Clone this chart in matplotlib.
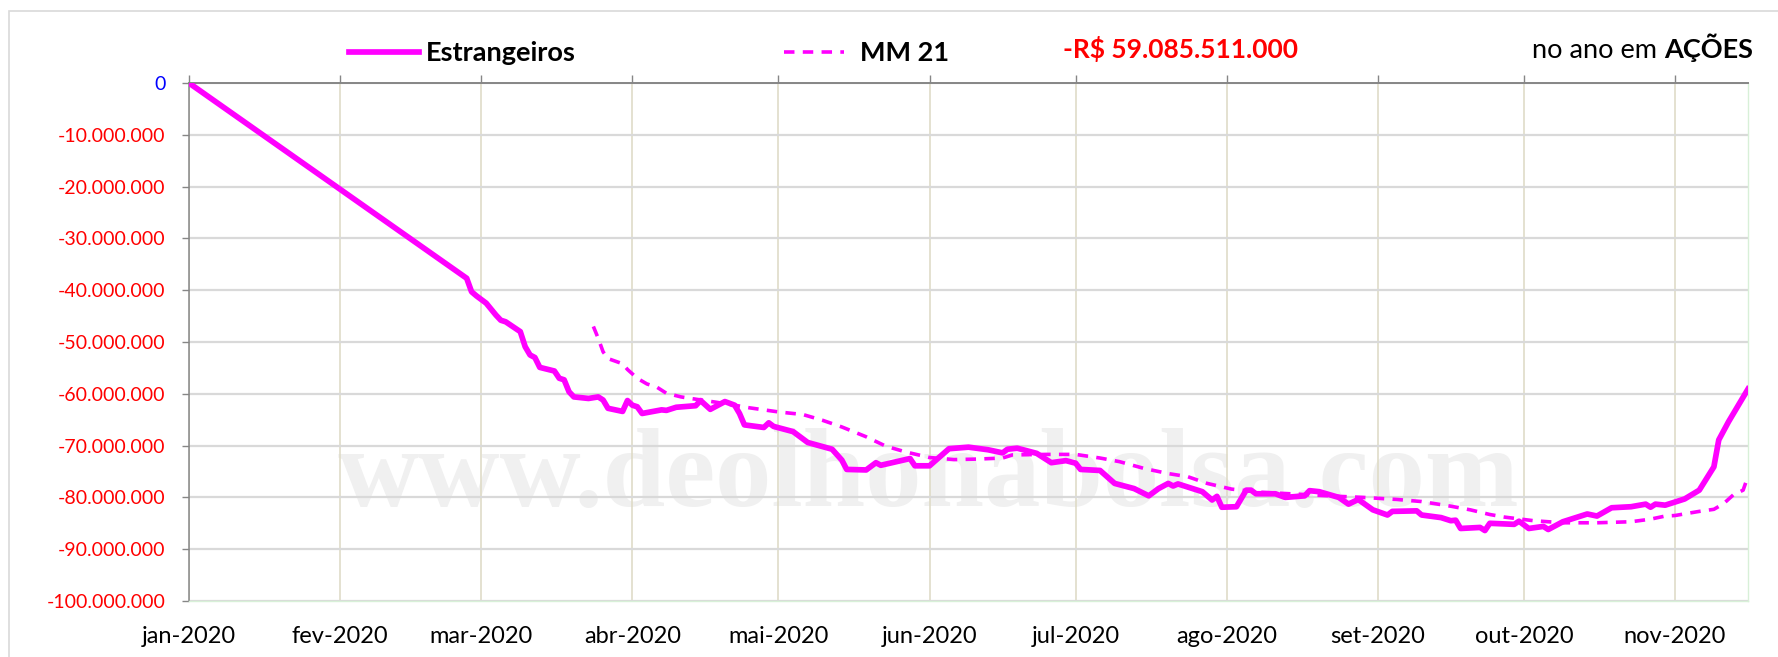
import numpy as np
import matplotlib
matplotlib.use('Agg')
import matplotlib.pyplot as plt
from matplotlib.lines import Line2D
from matplotlib.patches import Rectangle

# dias desde 01/01/2020 e saldo acumulado (milhoes, em R$ mil)
dias_estr = [0, 57, 58, 59, 61, 63, 64, 65, 68, 69, 70, 71, 72, 75, 76, 77, 78, 79,
             82, 84, 85, 86, 89, 90, 91, 92, 93, 97, 98, 100, 104, 105, 107, 110,
             112, 113, 114, 118, 119, 120, 124, 127, 132, 134, 135, 139, 141, 142,
             148, 149, 152, 156, 160, 164, 167, 168, 170, 174, 177, 180, 182, 183,
             187, 190, 194, 197, 199, 201, 202, 203, 208, 210, 211, 212, 215, 217,
             218, 219, 223, 225, 229, 230, 232, 236, 238, 240, 243, 246, 247, 252,
             253, 257, 259, 260, 261, 265, 266, 267, 272, 273, 275, 278, 279, 282,
             287, 289, 292, 296, 299, 300, 301, 303, 307, 310, 313, 314, 316, 320]
estrangeiros = [0, -37.7, -40.3, -41.1, -42.5, -44.8, -45.8, -46.1, -48.0, -50.9,
                -52.5, -53.0, -54.9, -55.6, -57.0, -57.3, -59.6, -60.6, -60.9, -60.6,
                -61.2, -62.8, -63.4, -61.3, -62.2, -62.5, -63.8, -63.1, -63.2, -62.6,
                -62.3, -61.3, -63.0, -61.5, -62.2, -63.8, -66.0, -66.5, -65.6, -66.3,
                -67.3, -69.4, -70.7, -72.8, -74.6, -74.7, -73.3, -73.8, -72.5, -73.9,
                -73.9, -70.6, -70.3, -70.8, -71.4, -70.7, -70.5, -71.5, -73.3, -72.9,
                -73.4, -74.6, -74.8, -77.3, -78.3, -79.7, -78.3, -77.3, -77.8, -77.4,
                -78.9, -80.5, -79.8, -81.9, -81.8, -78.6, -78.6, -79.3, -79.3, -80.0,
                -79.7, -78.7, -78.9, -80.0, -81.3, -80.4, -82.4, -83.4, -82.7, -82.6,
                -83.4, -83.9, -84.5, -84.4, -86.0, -85.8, -86.4, -85.0, -85.2, -84.6,
                -86.0, -85.6, -86.2, -84.7, -83.2, -83.6, -82.0, -81.8, -81.3, -81.9,
                -81.3, -81.5, -80.3, -78.6, -74.1, -68.9, -65.4, -59.085511]

dias_mm = [83, 84, 85, 86, 89, 90, 92, 94, 96, 98, 101, 103, 108, 112, 115, 121, 126,
           130, 134, 139, 143, 147, 152, 157, 162, 167, 169, 176, 182, 187, 191, 196,
           201, 205, 209, 214, 220, 228, 236, 241, 248, 253, 259, 263, 267, 270, 276,
           282, 289, 296, 300, 303, 305, 310, 313, 315, 317, 319, 320]
mm21 = [-47.0, -49.3, -51.9, -53.2, -54.2, -55.3, -57.0, -58.1, -58.7, -59.9, -60.6,
        -60.9, -61.6, -62.2, -62.7, -63.5, -64.0, -65.1, -66.4, -68.3, -70.1, -71.2,
        -72.3, -72.7, -72.6, -72.4, -71.8, -71.7, -71.7, -72.4, -73.1, -74.4, -75.4,
        -76.0, -77.3, -78.4, -79.0, -79.4, -79.8, -80.0, -80.4, -80.8, -81.7, -82.4,
        -83.3, -83.8, -84.5, -84.9, -84.9, -84.7, -84.2, -83.6, -83.5, -82.7, -82.3,
        -81.2, -79.5, -78.6, -75.9]

meses = ['jan-2020', 'fev-2020', 'mar-2020', 'abr-2020', 'mai-2020', 'jun-2020',
         'jul-2020', 'ago-2020', 'set-2020', 'out-2020', 'nov-2020']
y_ticks = [0, -10, -20, -30, -40, -50, -60, -70, -80, -90, -100]

inicio = np.datetime64('2020-01-01')
x_estr = inicio + np.array(dias_estr).astype('timedelta64[D]')
x_mm = inicio + np.array(dias_mm).astype('timedelta64[D]')
y_estr = np.array(estrangeiros) * 1e6
y_mm = np.array(mm21) * 1e6
pos_meses = np.arange('2020-01', '2020-12', dtype='datetime64[M]').astype('datetime64[D]')

plt.rcParams['font.family'] = ['Lato', 'DejaVu Sans']
mag = '#ff00ff'
W, H = 1778, 657

fig = plt.figure(figsize=(17.78, 6.57), dpi=100)
ax = fig.add_axes([189/W, 1-601/H, (1748-189)/W, (601-83)/H])

ax.text(0.474, 0.235, 'www.deolhonabolsa.com', transform=ax.transAxes, ha='center',
        va='center', fontsize=81, fontweight='bold', family='Liberation Serif',
        color='#f0f0f0', zorder=0.1)

ax.plot(x_mm, y_mm, color=mag, lw=2.6, dashes=(2.9, 2.3), zorder=3)
ax.plot(x_estr, y_estr, color=mag, lw=4.1, solid_joinstyle='round', zorder=4)

ax.set_xlim(inicio, inicio + np.timedelta64(320, 'D'))
ax.set_ylim(-100e6, 0)
ax.set_xticks(pos_meses)
ax.set_xticklabels(meses, fontsize=17)
ax.set_yticks(np.array(y_ticks) * 1e6)
ax.set_yticklabels(['0'] + ['{:,}'.format(v * 1000000).replace(',', '.') for v in y_ticks[1:]],
                   fontsize=14)
for i, lab in enumerate(ax.get_yticklabels()):
    lab.set_color('#0000ff' if i == 0 else '#ff0000')

ax.tick_params(axis='x', top=True, bottom=False, labeltop=False, labelbottom=True,
               direction='out', length=5.8, width=1, color='#868686', pad=12)
ax.tick_params(axis='y', direction='out', length=5, width=1, color='#868686', pad=12)

ax.set_axisbelow(True)
ax.grid(axis='y', color='#d9d9d9', lw=1.6)
ax.grid(axis='x', color='#ddd9c3', lw=1.1)
ax.spines['top'].set_color('#868686')
ax.spines['top'].set_linewidth(1.4)
ax.spines['left'].set_color('#868686')
ax.spines['left'].set_linewidth(1.1)
for s in ['right', 'bottom']:
    ax.spines[s].set_color('#d8f0d8')
    ax.spines[s].set_linewidth(1)

# moldura externa
fig.patches.append(Rectangle((8.6/W, -0.05), 1.0, 1.05 - 11/H, transform=fig.transFigure,
                             fill=False, edgecolor='#d9d9d9', lw=1.2))

# legenda
fig.add_artist(Line2D([349/W, 419/W], [1-52/H, 1-52/H], color=mag, lw=4.1))
fig.text(426/W, 1-61/H, 'Estrangeiros', fontsize=19.5, fontweight='bold', va='baseline')
fig.add_artist(Line2D([784/W, 844/W], [1-52/H, 1-52/H], color=mag, lw=2.6,
                      dashes=(2.9, 2.3)))
fig.text(860/W, 1-61/H, 'MM 21', fontsize=19.5, fontweight='bold', va='baseline')
fig.text(1063/W, 1-58/H, '-R$ 59.085.511.000', fontsize=19, fontweight='bold',
         color='#ff0000', va='baseline')
t_acoes = fig.text(1753/W, 1-58/H, 'AÇÕES', fontsize=19.5, fontweight='bold', ha='right',
                   va='baseline')
fig.canvas.draw()
x_esq = t_acoes.get_window_extent().x0
fig.text((x_esq - 7)/W, 1-58/H, 'no ano em', fontsize=19.5, ha='right', va='baseline')

fig.savefig('out.png', dpi=100)
